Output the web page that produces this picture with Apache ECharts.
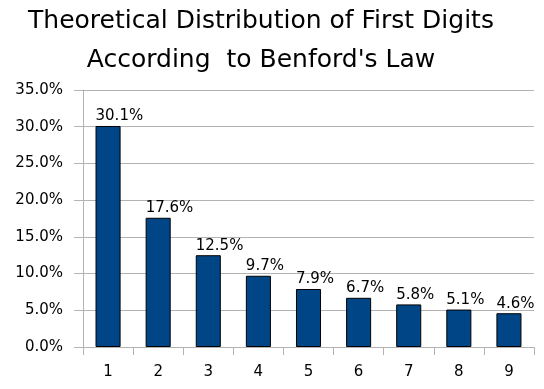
<!DOCTYPE html>
<html><head><meta charset="utf-8">
<script src="https://cdn.jsdelivr.net/npm/echarts@6/dist/echarts.min.js"></script>
<style>html,body{margin:0;padding:0;background:#fff}#c{width:544px;height:389px}</style>
</head><body><div id="c"></div>
<script>
var categories = ['1','2','3','4','5','6','7','8','9'];
var values = [30.1, 17.6, 12.5, 9.7, 7.9, 6.7, 5.8, 5.1, 4.6];
var yTicks = [0, 5, 10, 15, 20, 25, 30, 35];

var chart = echarts.init(document.getElementById('c'));
chart.setOption({
  animation: false,
  title: {
    text: 'Theoretical Distribution of First Digits\nAccording  to Benford\'s Law',
    left: 261, top: 2, padding: 0, textAlign: 'center',
    textStyle: { fontFamily: 'DejaVu Sans', fontSize: 25, fontWeight: 'normal', color: '#000', lineHeight: 39 }
  },
  grid: { left: 83, right: 10, top: 90, bottom: 42 },
  xAxis: {
    type: 'category', data: categories,
    axisLine: { lineStyle: { color: '#b3b3b3' } },
    axisTick: { show: true, length: 8, lineStyle: { color: '#b3b3b3' } },
    axisLabel: { fontFamily: 'DejaVu Sans', fontSize: 15, color: '#000', margin: 18 }
  },
  yAxis: {
    type: 'value', min: 0, max: 35, interval: 5,
    axisLine: { show: true, lineStyle: { color: '#b3b3b3' } },
    axisTick: { show: true, length: 9, lineStyle: { color: '#b3b3b3' } },
    splitLine: { lineStyle: { color: '#b3b3b3' } },
    axisLabel: { fontFamily: 'DejaVu Sans', fontSize: 15, color: '#000', margin: 20,
      formatter: function (v) { return v.toFixed(1) + '%'; } }
  },
  series: [{
    type: 'bar', data: values, barWidth: '50%',
    itemStyle: { color: '#004586', borderColor: '#000', borderWidth: 1 },
    label: { show: true, position: [0, -2], align: 'left', verticalAlign: 'bottom',
      fontFamily: 'DejaVu Sans', fontSize: 15, color: '#000',
      formatter: function (p) { return p.value.toFixed(1) + '%'; } }
  }]
});
</script></body></html>
